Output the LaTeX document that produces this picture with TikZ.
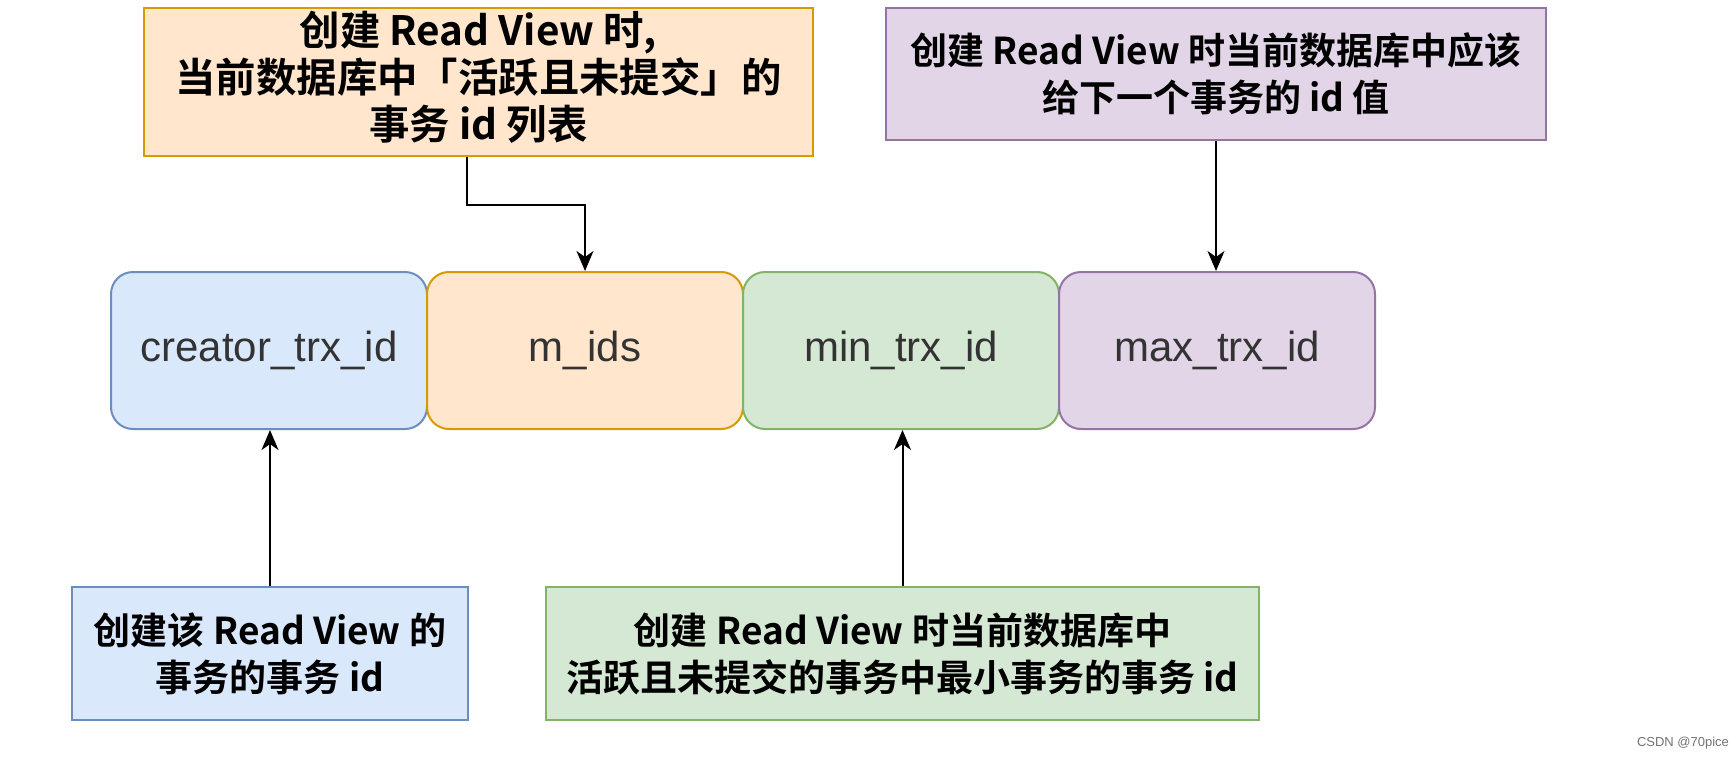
\documentclass[tikz,border=0pt]{standalone}
\usepackage{fontspec}
\setmainfont{Liberation Sans}
\newfontfamily\cjk{Noto Sans CJK SC}[BoldFont={Noto Sans CJK SC Bold}]
\usetikzlibrary{arrows.meta}
\definecolor{bfill}{HTML}{DAE8FC}\definecolor{bline}{HTML}{6C8EBF}
\definecolor{ofill}{HTML}{FFE6CC}\definecolor{oline}{HTML}{D79B00}
\definecolor{gfill}{HTML}{D5E8D4}\definecolor{gline}{HTML}{82B366}
\definecolor{pfill}{HTML}{E1D5E7}\definecolor{pline}{HTML}{9673A6}
\definecolor{labeltext}{HTML}{333333}
\tikzset{
  rowbox/.style={draw, line width=1pt, rounded corners=11pt, minimum width=158pt, minimum height=78.5pt, inner sep=0pt, text=labeltext, font=\fontsize{21}{24}\selectfont},
  notebox/.style={draw, line width=1pt, inner sep=0pt, align=center, text=black},
  notebig/.style={font=\cjk\bfseries\fontsize{20.2}{23.5}\selectfont},
  notesmall/.style={font=\cjk\bfseries\fontsize{18.5}{23.5}\selectfont},
  arr/.style={draw=black, line width=1pt, -{Stealth[length=10pt,width=8.5pt,inset=3pt]}}
}
\begin{document}
\begin{tikzpicture}[x=0.5pt,y=-0.5pt]
\useasboundingbox[fill=white] (0,0) rectangle (1734,760);
% row of fields
\node[rowbox, fill=bfill, draw=bline] (creator) at (269,350.5) {creator\_trx\_id};
\node[rowbox, fill=ofill, draw=oline] (mids) at (585,350.5) {m\_ids};
\node[rowbox, fill=gfill, draw=gline] (minid) at (901,350.5) {min\_trx\_id};
\node[rowbox, fill=pfill, draw=pline] (maxid) at (1217,350.5) {max\_trx\_id};
% notes
\node[notebox, fill=ofill, draw=oline, minimum width=334.5pt, minimum height=74pt] (onote) at (478.5,82) {};
\node[notebig, align=center, inner sep=0pt] (otext) at ([yshift=2.5pt]onote.center)
  {创建 Read View 时,\\当前数据库中「活跃且未提交」的\\事务 id 列表};
\node[notebox, notesmall, fill=pfill, draw=pline, minimum width=330pt, minimum height=66pt] (pnote) at (1216,74)
  {创建 Read View 时当前数据库中应该\\给下一个事务的 id 值};
\node[notebox, notesmall, fill=bfill, draw=bline, minimum width=198pt, minimum height=66.5pt] (bnote) at (270,653.5)
  {创建该 Read View 的\\事务的事务 id};
\node[notebox, notesmall, fill=gfill, draw=gline, minimum width=356.5pt, minimum height=66.5pt] (gnote) at (902.5,653.5)
  {创建 Read View 时当前数据库中\\活跃且未提交的事务中最小事务的事务 id};
% connectors
\coordinate (bend) at (467,205);
\draw[arr] (onote.south -| bend) -- (bend) -- (bend -| mids.north) -- (mids.north);
\draw[arr] (pnote.south) -- (pnote.south |- maxid.north);
\draw[arr] (bnote.north) -- (bnote.north |- creator.south);
\draw[arr] (gnote.north) -- (gnote.north |- minid.south);
% watermark
\node[text=black!55, font=\fontsize{6.5}{8}\selectfont, inner sep=0pt] (wm) at (1683,743) {CSDN @70pice};
\end{tikzpicture}
\end{document}
